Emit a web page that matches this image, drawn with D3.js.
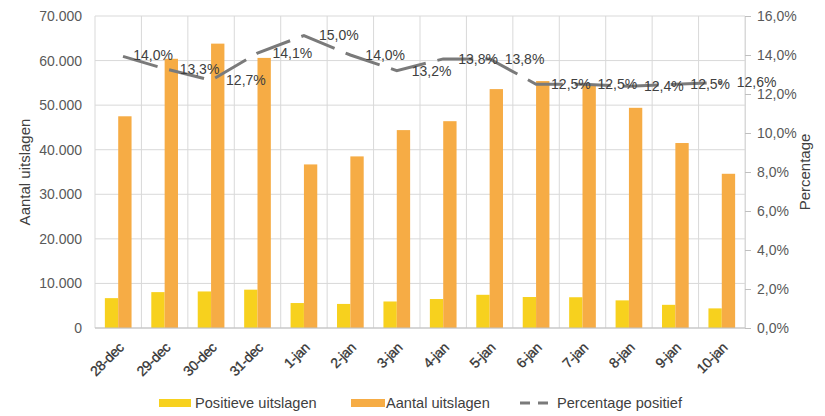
<!DOCTYPE html>
<html><head><meta charset="utf-8">
<script src="https://cdn.jsdelivr.net/npm/d3@7"></script>
<style>body{margin:0;background:#fff;} text{font-family:"Liberation Sans",Arial,sans-serif;}</style>
</head><body>
<svg id="chart" width="825" height="416"></svg>
<script>
const categories = ["28-dec","29-dec","30-dec","31-dec","1-jan","2-jan","3-jan","4-jan","5-jan","6-jan","7-jan","8-jan","9-jan","10-jan"];
const positieve = [6700,8050,8200,8600,5600,5400,5950,6500,7450,6950,6900,6200,5200,4400];
const aantal = [47500,60400,63800,60600,36700,38500,44400,46400,53600,55400,54700,49400,41500,34600];
const percentage = [14.0,13.3,12.7,14.1,15.0,14.0,13.2,13.8,13.8,12.5,12.5,12.4,12.5,12.6];
const leftTicks = [0,10000,20000,30000,40000,50000,60000,70000];
const rightTicks = [0,2,4,6,8,10,12,14,16];

const svg = d3.select("#chart");
const m = {l:95, r:745, t:16, b:328};
const x = d3.scaleBand().domain(categories).range([m.l, m.r]);
const xs = d3.scaleBand().domain(["p","a"]).range([0, x.bandwidth()]).paddingInner(0).paddingOuter(0.74);
const yL = d3.scaleLinear().domain([0,70000]).range([m.b, m.t]);
const yR = d3.scaleLinear().domain([0,16]).range([m.b, m.t]);
const fmtL = v => d3.format(",")(v).replace(/,/g, ".");
const fmtR = v => v.toFixed(1).replace(".", ",") + "%";

// gridlines
svg.append("g").selectAll("line").data(leftTicks).join("line")
  .attr("x1", m.l).attr("x2", m.r).attr("y1", d=>yL(d)).attr("y2", d=>yL(d))
  .attr("stroke", "#d9d9d9").attr("stroke-width", 1);
const bounds = categories.map(c => x(c)).concat([m.r]);
svg.append("g").selectAll("line").data(bounds).join("line")
  .attr("x1", d=>d).attr("x2", d=>d).attr("y1", m.t).attr("y2", m.b)
  .attr("stroke", "#d9d9d9").attr("stroke-width", 1);

// bars
const g = svg.append("g");
g.selectAll(".p").data(categories).join("rect")
  .attr("x", (c)=> x(c) + xs("p")).attr("width", xs.bandwidth())
  .attr("y", (c,i)=> yL(positieve[i])).attr("height", (c,i)=> yL(0)-yL(positieve[i]))
  .attr("fill", "#f7d11e");
g.selectAll(".a").data(categories).join("rect")
  .attr("x", (c)=> x(c) + xs("a")).attr("width", xs.bandwidth())
  .attr("y", (c,i)=> yL(aantal[i])).attr("height", (c,i)=> yL(0)-yL(aantal[i]))
  .attr("fill", "#f6ac45");

// baseline
svg.append("line").attr("x1", m.l).attr("x2", m.r).attr("y1", m.b).attr("y2", m.b)
  .attr("stroke", "#bfbfbf").attr("stroke-width", 1.2);

// left axis
const axL = d3.axisLeft(yL).tickValues(leftTicks).tickFormat(fmtL).tickSize(0).tickPadding(13);
const gL = svg.append("g").attr("transform", `translate(${m.l},0)`).call(axL);
gL.select(".domain").remove();
gL.selectAll("text").attr("fill", "#595959").style("font-size", "14px");

// right axis
const axR = d3.axisRight(yR).tickValues(rightTicks).tickFormat(fmtR).tickSize(6).tickPadding(6);
const gR = svg.append("g").attr("transform", `translate(${m.r},0)`).call(axR);
gR.select(".domain").attr("stroke", "#d9d9d9");
gR.selectAll("line").attr("stroke", "#bfbfbf");
gR.selectAll("text").attr("fill", "#595959").style("font-size", "14px");

// x axis labels
const axB = d3.axisBottom(x).tickSize(0).tickPadding(0);
const gB = svg.append("g").attr("transform", `translate(0,${m.b})`).call(axB);
gB.select(".domain").remove();
gB.selectAll("text").attr("fill", "#333").style("font-size", "14px")
  .style("letter-spacing", "-0.4px").style("stroke", "#333").style("stroke-width", "0.3px")
  .attr("text-anchor", "end").attr("dy", "0.35em")
  .attr("transform", "translate(3,17) rotate(-45)");

// percentage line
const line = d3.line().x((d,i)=> x(categories[i]) + x.bandwidth()/2).y(d=> yR(d));
svg.append("path").datum(percentage).attr("d", line)
  .attr("fill", "none").attr("stroke", "#7a7a7a").attr("stroke-width", 3)
  .attr("stroke-dasharray", "36,12").attr("stroke-dashoffset", -5);

// data labels
svg.append("g").selectAll("text").data(percentage).join("text")
  .attr("x", (d,i)=> x(categories[i]) + x.bandwidth()/2 + 15)
  .attr("y", d=> yR(d)).attr("dy", "0.35em")
  .attr("fill", "#404040").style("font-size", "14px")
  .text(d => fmtR(d));

// axis titles
svg.append("text").attr("transform", "translate(30,172) rotate(-90)")
  .attr("text-anchor", "middle").attr("fill", "#404040").style("font-size", "15px")
  .text("Aantal uitslagen");
svg.append("text").attr("transform", "translate(810,172) rotate(-90)")
  .attr("text-anchor", "middle").attr("fill", "#404040").style("font-size", "15px")
  .text("Percentage");

// legend
const lg = svg.append("g");
const lfs = "14.6px";
lg.append("rect").attr("x", 159).attr("y", 399).attr("width", 32).attr("height", 8).attr("fill", "#f7d11e");
lg.append("text").attr("x", 195).attr("y", 403).attr("dy", "0.35em").attr("fill", "#404040").style("font-size", lfs).text("Positieve uitslagen");
lg.append("rect").attr("x", 351).attr("y", 399).attr("width", 34).attr("height", 8).attr("fill", "#f6ac45");
lg.append("text").attr("x", 386).attr("y", 403).attr("dy", "0.35em").attr("fill", "#404040").style("font-size", lfs).text("Aantal uitslagen");
lg.append("line").attr("x1", 520).attr("x2", 556).attr("y1", 403).attr("y2", 403)
  .attr("stroke", "#7a7a7a").attr("stroke-width", 3).attr("stroke-dasharray", "10,8");
lg.append("text").attr("x", 557).attr("y", 403).attr("dy", "0.35em").attr("fill", "#404040").style("font-size", lfs).text("Percentage positief");
</script>
</body></html>
